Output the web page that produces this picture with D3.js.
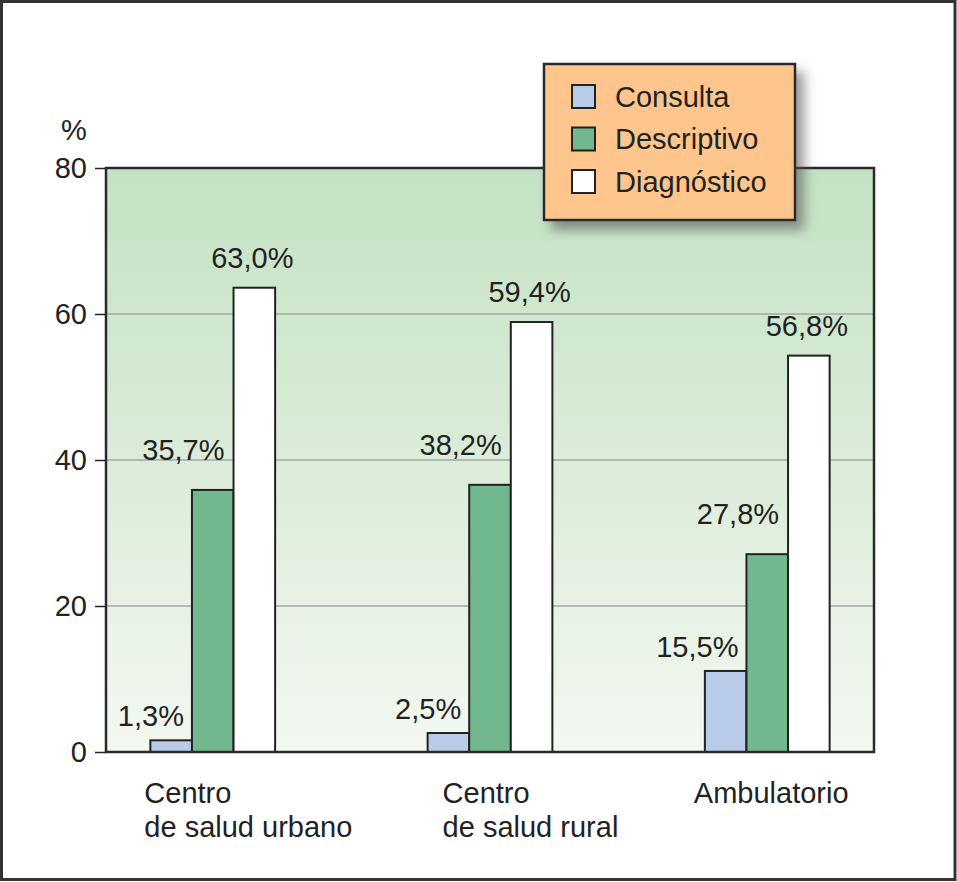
<!DOCTYPE html>
<html lang="es">
<head>
<meta charset="utf-8">
<title>Consulta / Descriptivo / Diagnóstico</title>
<script src="https://d3js.org/d3.v7.min.js"></script>
<style>
  body { margin: 0; background: #fff; }
  svg text { font-family: "Liberation Sans", Arial, Helvetica, sans-serif; fill: #222; }
</style>
</head>
<body>
<div id="chart"></div>
<script>
// categories (each split in display lines)
var categories = ["Centro de salud urbano", "Centro de salud rural", "Ambulatorio"];
var categoryLines = [["Centro", "de salud urbano"], ["Centro", "de salud rural"], ["Ambulatorio"]];
var seriesNames = ["Consulta", "Descriptivo", "Diagnóstico"];

// bar heights as drawn in the picture
var consulta    = [1.6, 2.6, 11.1];
var descriptivo = [35.9, 36.6, 27.1];
var diagnostico = [63.6, 58.9, 54.3];

// printed labels
var consultaLabels    = ["1,3%", "2,5%", "15,5%"];
var descriptivoLabels = ["35,7%", "38,2%", "27,8%"];
var diagnosticoLabels = ["63,0%", "59,4%", "56,8%"];

var yTicks = [0, 20, 40, 60, 80];

// layout / style
var w = 957, h = 882;
var plot = {left: 106, right: 874, top: 168, bottom: 752};
var colors = ["#b8cce9", "#72b88e", "#ffffff"];
var fontSize = 29;
var catLabelDx = [-6, 15, -11];

var series = [
  {name: seriesNames[0], values: consulta, labels: consultaLabels, color: colors[0], anchor: "end", dx: -8, dy: -14},
  {name: seriesNames[1], values: descriptivo, labels: descriptivoLabels, color: colors[1], anchor: "end", dx: -9, dy: -30},
  {name: seriesNames[2], values: diagnostico, labels: diagnosticoLabels, color: colors[2], anchor: "middle", dx: -2, dy: -20}
];

var svg = d3.select("#chart").append("svg")
  .attr("width", w).attr("height", h);

var defs = svg.append("defs");
var grad = defs.append("linearGradient").attr("id", "bg")
  .attr("x1", 0).attr("y1", 0).attr("x2", 0).attr("y2", 1);
grad.append("stop").attr("offset", "0%").attr("stop-color", "#c3e2c3");
grad.append("stop").attr("offset", "50%").attr("stop-color", "#dbecd8");
grad.append("stop").attr("offset", "100%").attr("stop-color", "#f3f8f1");

var shadow = defs.append("filter").attr("id", "shadow")
  .attr("x", "-10%").attr("y", "-10%").attr("width", "130%").attr("height", "140%");
shadow.append("feDropShadow").attr("dx", 8).attr("dy", 9).attr("stdDeviation", 6)
  .attr("flood-color", "#555").attr("flood-opacity", 0.6);

// outer frame
svg.append("rect")
  .attr("x", 1.5).attr("y", 1.5).attr("width", w - 3.5).attr("height", h - 4)
  .attr("fill", "#fff").attr("stroke", "#333").attr("stroke-width", 3);

// scales
var x0 = d3.scaleBand().domain(categories)
  .range([plot.left, plot.right]).paddingInner(0.55).paddingOuter(0.16);
var x1 = d3.scaleBand().domain(seriesNames).range([0, x0.bandwidth()]);
var y = d3.scaleLinear().domain([0, 80]).range([plot.bottom, plot.top]);

// background
svg.append("rect")
  .attr("x", plot.left).attr("y", plot.top)
  .attr("width", plot.right - plot.left).attr("height", plot.bottom - plot.top)
  .attr("fill", "url(#bg)");

// grid lines
svg.append("g").selectAll("line")
  .data(yTicks.filter(function(d) { return d > 0 && d < 80; }))
  .enter().append("line")
  .attr("x1", plot.left).attr("x2", plot.right)
  .attr("y1", function(d) { return y(d); }).attr("y2", function(d) { return y(d); })
  .attr("stroke", "#a6a6a6").attr("stroke-width", 1.5);

// y axis
var yAxis = svg.append("g")
  .attr("transform", "translate(" + plot.left + ",0)")
  .call(d3.axisLeft(y).tickValues(yTicks).tickSize(11).tickPadding(8));
yAxis.select(".domain").remove();
yAxis.selectAll(".tick line").attr("stroke", "#222").attr("stroke-width", 1.5);
yAxis.selectAll(".tick text")
  .style("font-size", fontSize + "px")
  .style("font-family", "Liberation Sans, Arial, sans-serif")
  .attr("fill", "#222");

svg.append("text")
  .attr("x", 74).attr("y", 140)
  .attr("text-anchor", "middle")
  .style("font-size", fontSize + "px")
  .text("%");

// bars
var groups = svg.append("g").selectAll("g")
  .data(series).enter().append("g");

groups.selectAll("rect")
  .data(function(s) {
    return s.values.map(function(v, i) { return {s: s, cat: categories[i], v: v}; });
  })
  .enter().append("rect")
  .attr("x", function(d) { return x0(d.cat) + x1(d.s.name); })
  .attr("y", function(d) { return y(d.v); })
  .attr("width", x1.bandwidth())
  .attr("height", function(d) { return y(0) - y(d.v); })
  .attr("fill", function(d) { return d.s.color; })
  .attr("stroke", "#222").attr("stroke-width", 2);

// value labels
groups.selectAll("text")
  .data(function(s) {
    return s.values.map(function(v, i) { return {s: s, cat: categories[i], v: v, label: s.labels[i]}; });
  })
  .enter().append("text")
  .attr("x", function(d) {
    var left = x0(d.cat) + x1(d.s.name);
    if (d.s.anchor == "end") return left + x1.bandwidth() + d.s.dx;
    return left + x1.bandwidth() / 2 + d.s.dx;
  })
  .attr("y", function(d) { return y(d.v) + d.s.dy; })
  .attr("text-anchor", function(d) { return d.s.anchor; })
  .style("font-size", fontSize + "px")
  .text(function(d) { return d.label; });

// plot border
svg.append("rect")
  .attr("x", plot.left).attr("y", plot.top)
  .attr("width", plot.right - plot.left).attr("height", plot.bottom - plot.top)
  .attr("fill", "none").attr("stroke", "#2a2a2a").attr("stroke-width", 2.5);

// category labels
var cat = svg.append("g").selectAll("text")
  .data(categories).enter().append("text")
  .attr("x", function(d, i) { return x0(d) + catLabelDx[i]; })
  .attr("y", 803)
  .style("font-size", fontSize + "px");
cat.selectAll("tspan")
  .data(function(d, i) { return categoryLines[i].map(function(t, j) { return {t: t, j: j, x: x0(d) + catLabelDx[i]}; }); })
  .enter().append("tspan")
  .attr("x", function(d) { return d.x; })
  .attr("dy", function(d) { return d.j == 0 ? 0 : 33.5; })
  .text(function(d) { return d.t; });

// legend
var legend = svg.append("g").attr("transform", "translate(544,64)");
legend.append("rect")
  .attr("width", 251).attr("height", 156)
  .attr("fill", "#fec68c").attr("stroke", "#2a2a2a").attr("stroke-width", 2.5)
  .attr("filter", "url(#shadow)");
var items = legend.selectAll("g.item")
  .data(series).enter().append("g").attr("class", "item")
  .attr("transform", function(d, i) { return "translate(0," + (i * 42.5) + ")"; });
items.append("rect")
  .attr("x", 28).attr("y", 21).attr("width", 23).attr("height", 23)
  .attr("fill", function(d) { return d.color; })
  .attr("stroke", "#222").attr("stroke-width", 2);
items.append("text")
  .attr("x", 71).attr("y", 42.5)
  .style("font-size", fontSize + "px")
  .text(function(d) { return d.name; });
</script>
</body>
</html>
